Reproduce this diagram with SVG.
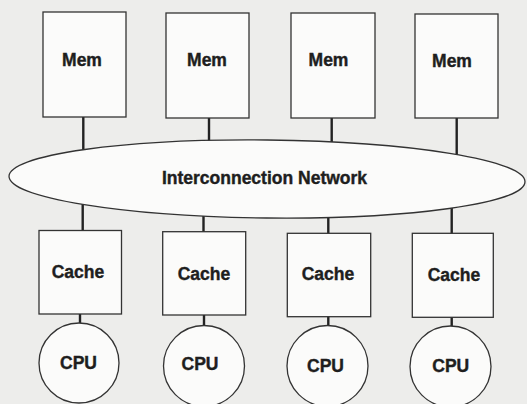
<svg xmlns="http://www.w3.org/2000/svg" width="527" height="404" viewBox="0 0 527 404">
<style>
.bg{fill:#ededeb}
.box{fill:#fbfbfa;stroke:#333;stroke-width:1.3}
.conn{stroke:#222;stroke-width:2.4;fill:none}
.lbl{font-family:"Liberation Sans",Arial,sans-serif;font-weight:bold;font-size:17.5px;fill:#1e1e1e;stroke:#1e1e1e;stroke-width:0.4;text-anchor:middle}
</style>
<rect class="bg" x="0" y="0" width="527" height="404"/>
<g id="connectors">
<line class="conn" x1="83.3" y1="116" x2="83.3" y2="165"/>
<line class="conn" x1="209" y1="117" x2="209" y2="160"/>
<line class="conn" x1="331.7" y1="117" x2="331.7" y2="160"/>
<line class="conn" x1="456.7" y1="117" x2="456.7" y2="165"/>
<line class="conn" x1="82.7" y1="195" x2="82.7" y2="231"/>
<line class="conn" x1="203.5" y1="200" x2="203.5" y2="232"/>
<line class="conn" x1="328.3" y1="200" x2="328.3" y2="234"/>
<line class="conn" x1="451.7" y1="195" x2="451.7" y2="234"/>
<line class="conn" x1="80" y1="313" x2="80" y2="335"/>
<line class="conn" x1="204" y1="315" x2="204" y2="335"/>
<line class="conn" x1="328.3" y1="316" x2="328.3" y2="335"/>
<line class="conn" x1="451.7" y1="317" x2="451.7" y2="335"/>
</g>
<g id="mem1"><rect class="box" x="43" y="12" width="83" height="105"/><text class="lbl" x="82" y="65.5">Mem</text></g>
<g id="mem2"><rect class="box" x="166" y="13" width="83" height="105"/><text class="lbl" x="207" y="66">Mem</text></g>
<g id="mem3"><rect class="box" x="291" y="13" width="84" height="105"/><text class="lbl" x="328.5" y="66">Mem</text></g>
<g id="mem4"><rect class="box" x="415" y="14" width="83" height="104"/><text class="lbl" x="452" y="66.5">Mem</text></g>
<g id="network"><ellipse class="box" cx="267" cy="179" rx="258" ry="39" transform="rotate(0.6 267 179)"/><text class="lbl" x="264.5" y="183.5">Interconnection Network</text></g>
<g id="cache1"><rect class="box" x="39" y="230.5" width="82.5" height="83.5"/><text class="lbl" x="78" y="278">Cache</text></g>
<g id="cache2"><rect class="box" x="162.7" y="231.7" width="83" height="83.3"/><text class="lbl" x="204" y="279.5">Cache</text></g>
<g id="cache3"><rect class="box" x="287.3" y="233.3" width="83.4" height="83.4"/><text class="lbl" x="328" y="280">Cache</text></g>
<g id="cache4"><rect class="box" x="412.3" y="233.3" width="81" height="84"/><text class="lbl" x="454" y="280.5">Cache</text></g>
<g id="cpu1"><circle class="box" cx="79" cy="363" r="40"/><text class="lbl" x="78.5" y="369">CPU</text></g>
<g id="cpu2"><circle class="box" cx="204" cy="366" r="40.5"/><text class="lbl" x="200" y="370">CPU</text></g>
<g id="cpu3"><circle class="box" cx="327.5" cy="366" r="40.5"/><text class="lbl" x="325.5" y="371.5">CPU</text></g>
<g id="cpu4"><circle class="box" cx="450.5" cy="366.5" r="40.5"/><text class="lbl" x="450.8" y="371.5">CPU</text></g>
</svg>
